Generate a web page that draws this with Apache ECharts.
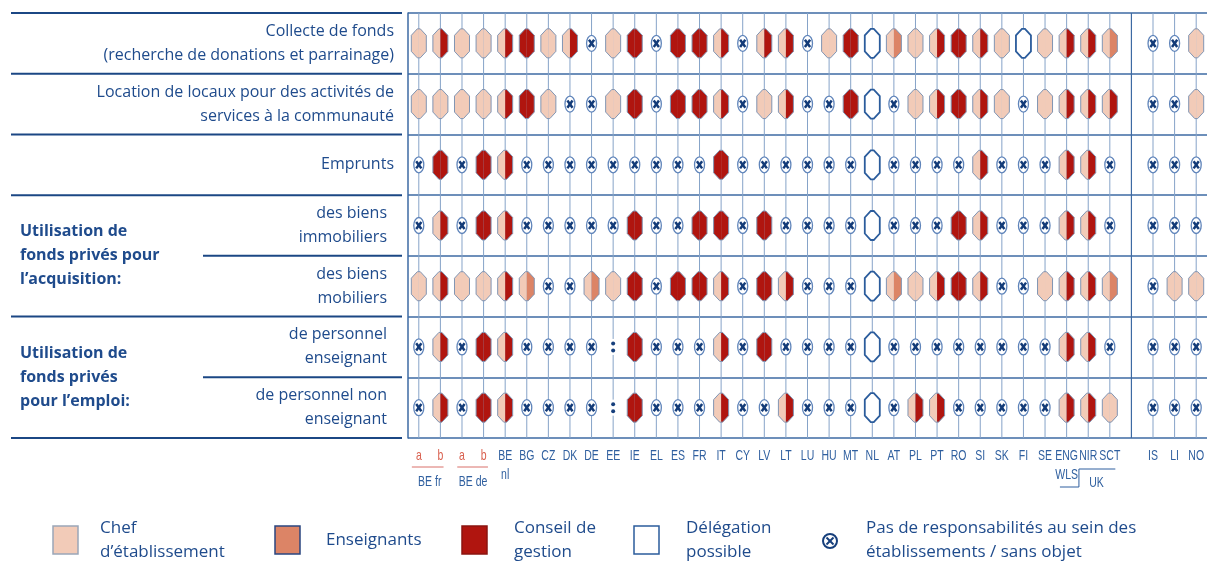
<!DOCTYPE html>
<html>
<head>
<meta charset="utf-8">
<script src="https://cdn.jsdelivr.net/npm/echarts@6.0.0/dist/echarts.min.js"></script>
<style>
  html, body { margin: 0; padding: 0; background: #fff; }
  #chartWrap { width: 1207px; height: 562px; }
</style>
</head>
<body>
<div id="chartWrap"></div>
<script>
// pays / systèmes (colonne 33 = séparateur avant IS, LI, NO)
var countries = ['BE fr a', 'BE fr b', 'BE de a', 'BE de b', 'BE nl', 'BG', 'CZ', 'DK', 'DE', 'EE', 'IE', 'EL', 'ES', 'FR', 'IT', 'CY', 'LV', 'LT', 'LU', 'HU', 'MT', 'NL', 'AT', 'PL', 'PT', 'RO', 'SI', 'SK', 'FI', 'SE', 'UK-ENG/WLS', 'UK-NIR', 'UK-SCT', '', 'IS', 'LI', 'NO'];
var tickLabels = ['a', 'b', 'a', 'b', 'BE\nnl', 'BG', 'CZ', 'DK', 'DE', 'EE', 'IE', 'EL', 'ES', 'FR', 'IT', 'CY', 'LV', 'LT', 'LU', 'HU', 'MT', 'NL', 'AT', 'PL', 'PT', 'RO', 'SI', 'SK', 'FI', 'SE', 'ENG\nWLS', 'NIR', 'SCT', '', 'IS', 'LI', 'NO'];
var rowLabels = [
  'Collecte de fonds\n(recherche de donations et parrainage)',
  'Location de locaux pour des activités de\nservices à la communauté',
  'Emprunts',
  'des biens\nimmobiliers',
  'des biens\nmobiliers',
  'de personnel\nenseignant',
  'de personnel non\nenseignant'
];

// C = chef d'établissement, E = enseignants, G = conseil de gestion
// CG / CE = moitié-moitié, D = délégation possible, X = sans objet, ':' = non disponible
var collecte = ['C','CG','C','C','CG','G','C','CG','X','C','G','X','G','G','CG','X','CG','CG','X','C','G','D','CE','C','CG','G','CG','C','D','C','CG','CG','CE',null,'X','X','C'];
var locaux = ['C','C','C','C','CG','G','C','X','X','C','G','X','G','G','CG','X','C','CG','X','X','G','D','X','C','CG','G','CG','C','X','C','CG','CG','CG',null,'X','X','C'];
var emprunts = ['X','G','X','G','CG','X','X','X','X','X','X','X','X','X','G','X','X','X','X','X','X','D','X','X','X','X','CG','X','X','X','CG','CG','X',null,'X','X','X'];
var immobiliers = ['X','CG','X','G','CG','X','X','X','X','X','G','X','X','G','G','X','G','X','X','X','X','D','X','X','X','G','CG','X','X','X','CG','CG','X',null,'X','X','X'];
var mobiliers = ['C','CG','C','C','CG','CE','X','X','CE','C','G','X','G','G','CG','X','G','CG','X','X','X','D','CE','C','CG','G','CG','X','X','C','CG','CG','CE',null,'X','C','C'];
var persEnseignant = ['X','CG','X','G','CG','X','X','X','X',':','G','X','X','X','CG','X','G','X','X','X','X','D','X','X','X','X','X','X','X','X','CG','CG','X',null,'X','X','X'];
var persNonEnseignant = ['X','CG','X','G','CG','X','X','X','X',':','G','X','X','X','CG','X','X','CG','X','X','X','D','X','CG','CG','X','X','X','X','X','CG','CG','C',null,'X','X','X'];

var rows = [collecte, locaux, emprunts, immobiliers, mobiliers, persEnseignant, persNonEnseignant];

var NAVY = '#1f4b8c';
var LINE = '#3d6aa3';
var TICK = '#2f5f9f';
var RED = '#d9604f';
var COLORS = { C: '#f2cbb8', E: '#dc8466', G: '#b0150f' };
var FONT = '"Open Sans", "Noto Sans", sans-serif';
var NARROW = '"Liberation Sans", Arial, sans-serif';
var SQUEEZE = 0.7; // police étroite simulée

// mise en page
var GRID_LEFT = 408, GRID_TOP = 13, GRID_W = 803, GRID_H = 425;
var SLOT = GRID_W / countries.length;
var ROW_H = GRID_H / rowLabels.length;
function colX(i) { return GRID_LEFT + (i + 0.5) * SLOT; }
function rowY(k) { return GRID_TOP + k * ROW_H; }

// cellules
var cellData = [], cellCodes = [];
for (var r = 0; r < rows.length; r++) {
  for (var c = 0; c < rows[r].length; c++) {
    if (rows[r][c] === null) continue;
    cellData.push([c, r]);
    cellCodes.push(rows[r][c]);
  }
}
var colLines = [], sepLines = [], tickData = [];
for (var i = 0; i < countries.length; i++) {
  if (countries[i] === '') sepLines.push([i, 0]);
  else colLines.push([i, 0]);
  if (tickLabels[i]) tickData.push([i, rowLabels.length - 1]);
}

function noneMark(cx, cy) {
  return {
    type: 'group',
    children: [
      { type: 'ellipse', shape: { cx: cx, cy: cy, rx: 5, ry: 8 }, style: { fill: '#fff', stroke: '#5f84ba', lineWidth: 1.3 } },
      { type: 'line', shape: { x1: cx - 2.6, y1: cy - 3.6, x2: cx + 2.6, y2: cy + 3.6 }, style: { stroke: '#133b78', lineWidth: 2.5 } },
      { type: 'line', shape: { x1: cx + 2.6, y1: cy - 3.6, x2: cx - 2.6, y2: cy + 3.6 }, style: { stroke: '#133b78', lineWidth: 2.5 } }
    ]
  };
}

function renderCell(params, api) {
  var code = cellCodes[params.dataIndex];
  var p = api.coord([api.value(0), api.value(1)]);
  var cx = p[0], cy = p[1];
  if (code == 'X') return noneMark(cx, cy);
  if (code == ':') {
    return {
      type: 'group',
      children: [
        { type: 'rect', shape: { x: cx - 4, y: cy - 8, width: 8, height: 16 }, style: { fill: '#fff' } },
        { type: 'circle', shape: { cx: cx, cy: cy - 3.5, r: 2 }, style: { fill: '#163f7c' } },
        { type: 'circle', shape: { cx: cx, cy: cy + 3.5, r: 2 }, style: { fill: '#163f7c' } }
      ]
    };
  }
  var w = 7.5, h = 14.5, s = 6.5, f = 1.5;
  var t = cy - h, b = cy + h;
  var full = [[cx - f, t], [cx + f, t], [cx + w, t + s], [cx + w, b - s], [cx + f, b], [cx - f, b], [cx - w, b - s], [cx - w, t + s]];
  if (code == 'D') {
    return { type: 'polygon', shape: { points: full }, style: { fill: '#fff', stroke: '#2b5c9c', lineWidth: 1.8 } };
  }
  var left = [[cx, t], [cx - f, t], [cx - w, t + s], [cx - w, b - s], [cx - f, b], [cx, b]];
  var right = [[cx, t], [cx + f, t], [cx + w, t + s], [cx + w, b - s], [cx + f, b], [cx, b]];
  return {
    type: 'group',
    children: [
      { type: 'polygon', shape: { points: left }, style: { fill: COLORS[code.charAt(0)] } },
      { type: 'polygon', shape: { points: right }, style: { fill: COLORS[code.charAt(code.length - 1)] } },
      { type: 'polygon', shape: { points: full }, style: { fill: 'none', stroke: '#8195b3', lineWidth: 1 } }
    ]
  };
}

function vLine(color, width) {
  return function(params, api) {
    var p = api.coord([api.value(0), 0]);
    var cs = params.coordSys;
    return { type: 'line', shape: { x1: p[0], y1: cs.y, x2: p[0], y2: cs.y + cs.height }, style: { stroke: color, lineWidth: width } };
  };
}

// étiquettes des pays, en police étroite
function renderTick(params, api) {
  var i = api.value(0);
  var p = api.coord([i, 0]);
  var cs = params.coordSys;
  return {
    type: 'text',
    x: p[0],
    y: cs.y + cs.height + 8,
    scaleX: SQUEEZE,
    style: { text: tickLabels[i], font: '15px ' + NARROW, lineHeight: 19, fill: i < 4 ? RED : TICK, align: 'center', verticalAlign: 'top' }
  };
}

function narrowText(x, y, text) {
  return { type: 'text', x: x, y: y, scaleX: SQUEEZE, style: { text: text, font: '15px ' + NARROW, fill: TICK, align: 'center', verticalAlign: 'middle' } };
}

// panneau de gauche + légende
var graphics = [];
[0, 1, 2, 3, 5, 7].forEach(function(k) {
  graphics.push({ type: 'line', shape: { x1: 11, y1: rowY(k), x2: 402, y2: rowY(k) }, style: { stroke: '#1b4784', lineWidth: 2 } });
});
[4, 6].forEach(function(k) {
  graphics.push({ type: 'line', shape: { x1: 203, y1: rowY(k), x2: 402, y2: rowY(k) }, style: { stroke: '#1b4784', lineWidth: 2 } });
});
graphics.push({ type: 'text', x: 20, y: rowY(4), style: { text: 'Utilisation de\nfonds privés pour\nl’acquisition:', font: 'bold 16px ' + FONT, lineHeight: 24, fill: NAVY, verticalAlign: 'middle' } });
graphics.push({ type: 'text', x: 20, y: rowY(6), style: { text: 'Utilisation de\nfonds privés\npour l’emploi:', font: 'bold 16px ' + FONT, lineHeight: 24, fill: NAVY, verticalAlign: 'middle' } });

// BE fr / BE de / UK
graphics.push({ type: 'line', shape: { x1: colX(0) - 7, y1: 467, x2: colX(1) + 3, y2: 467 }, style: { stroke: '#d9706a', lineWidth: 1 } });
graphics.push({ type: 'line', shape: { x1: colX(2) - 5, y1: 467, x2: colX(3) + 4, y2: 467 }, style: { stroke: '#d9706a', lineWidth: 1 } });
graphics.push(narrowText((colX(0) + colX(1)) / 2, 482, 'BE fr'));
graphics.push(narrowText((colX(2) + colX(3)) / 2, 482, 'BE de'));
graphics.push({ type: 'polyline', shape: { points: [[colX(30) - 10, 487], [colX(30) + 9, 487], [colX(30) + 9, 469], [colX(32) + 2, 469]] }, style: { stroke: TICK, lineWidth: 1, fill: null } });
graphics.push(narrowText((colX(31) + colX(32)) / 2 - 6, 483, 'UK'));

var legendItems = [
  { x: 53, text: 'Chef\nd’établissement', fill: COLORS.C, stroke: '#9aa6b8', tx: 100 },
  { x: 275, text: 'Enseignants', fill: COLORS.E, stroke: '#2a4680', tx: 326 },
  { x: 462, text: 'Conseil de\ngestion', fill: COLORS.G, stroke: '#8a1410', tx: 514 },
  { x: 634, text: 'Délégation\npossible', fill: '#fff', stroke: '#2b5c9c', tx: 686 }
];
legendItems.forEach(function(it) {
  graphics.push({ type: 'rect', shape: { x: it.x, y: 526, width: 25, height: 28 }, style: { fill: it.fill, stroke: it.stroke, lineWidth: 1.5 } });
  graphics.push({ type: 'text', x: it.tx, y: 540, style: { text: it.text, font: '17px ' + FONT, lineHeight: 24, fill: NAVY, verticalAlign: 'middle' } });
});
graphics.push({ type: 'circle', shape: { cx: 830, cy: 541, r: 7 }, style: { fill: '#fff', stroke: '#163f7c', lineWidth: 2 } });
graphics.push({ type: 'line', shape: { x1: 826.5, y1: 537.5, x2: 833.5, y2: 544.5 }, style: { stroke: '#163f7c', lineWidth: 2 } });
graphics.push({ type: 'line', shape: { x1: 833.5, y1: 537.5, x2: 826.5, y2: 544.5 }, style: { stroke: '#163f7c', lineWidth: 2 } });
graphics.push({ type: 'text', x: 866, y: 540, style: { text: 'Pas de responsabilités au sein des\nétablissements / sans objet', font: '17px ' + FONT, lineHeight: 24, fill: NAVY, verticalAlign: 'middle' } });

var myChart = echarts.init(document.getElementById('chartWrap'));
myChart.setOption({
  backgroundColor: '#fff',
  animation: false,
  grid: { left: GRID_LEFT, top: GRID_TOP, width: GRID_W, height: GRID_H },
  xAxis: {
    type: 'category',
    data: countries,
    axisLine: { show: false },
    axisTick: { show: false },
    splitLine: { show: false },
    axisLabel: { show: false }
  },
  yAxis: {
    type: 'category',
    data: rowLabels,
    inverse: true,
    axisLine: { show: true, lineStyle: { color: LINE, width: 1.5 } },
    axisTick: { show: false },
    splitLine: { show: true, lineStyle: { color: LINE, width: 1.5 } },
    axisLabel: {
      margin: 14,
      fontFamily: FONT,
      fontSize: 16,
      lineHeight: 24,
      color: NAVY,
      align: 'right',
      formatter: function(value, index) {
        if (index < 3) return value;
        return value.split('\n').map(function(l) { return '{p|' + l + '}'; }).join('\n');
      },
      rich: { p: { padding: [0, 7, 0, 0], fontFamily: FONT, fontSize: 16, lineHeight: 24, color: NAVY } }
    }
  },
  series: [
    { type: 'custom', data: colLines, renderItem: vLine('#86a3c8', 1), silent: true, z: 1 },
    { type: 'custom', data: sepLines, renderItem: vLine(LINE, 1.2), silent: true, z: 1 },
    { type: 'custom', data: cellData, renderItem: renderCell, z: 3 },
    { type: 'custom', data: tickData, renderItem: renderTick, silent: true, clip: false, z: 3 }
  ],
  graphic: graphics
});
</script>
</body>
</html>
